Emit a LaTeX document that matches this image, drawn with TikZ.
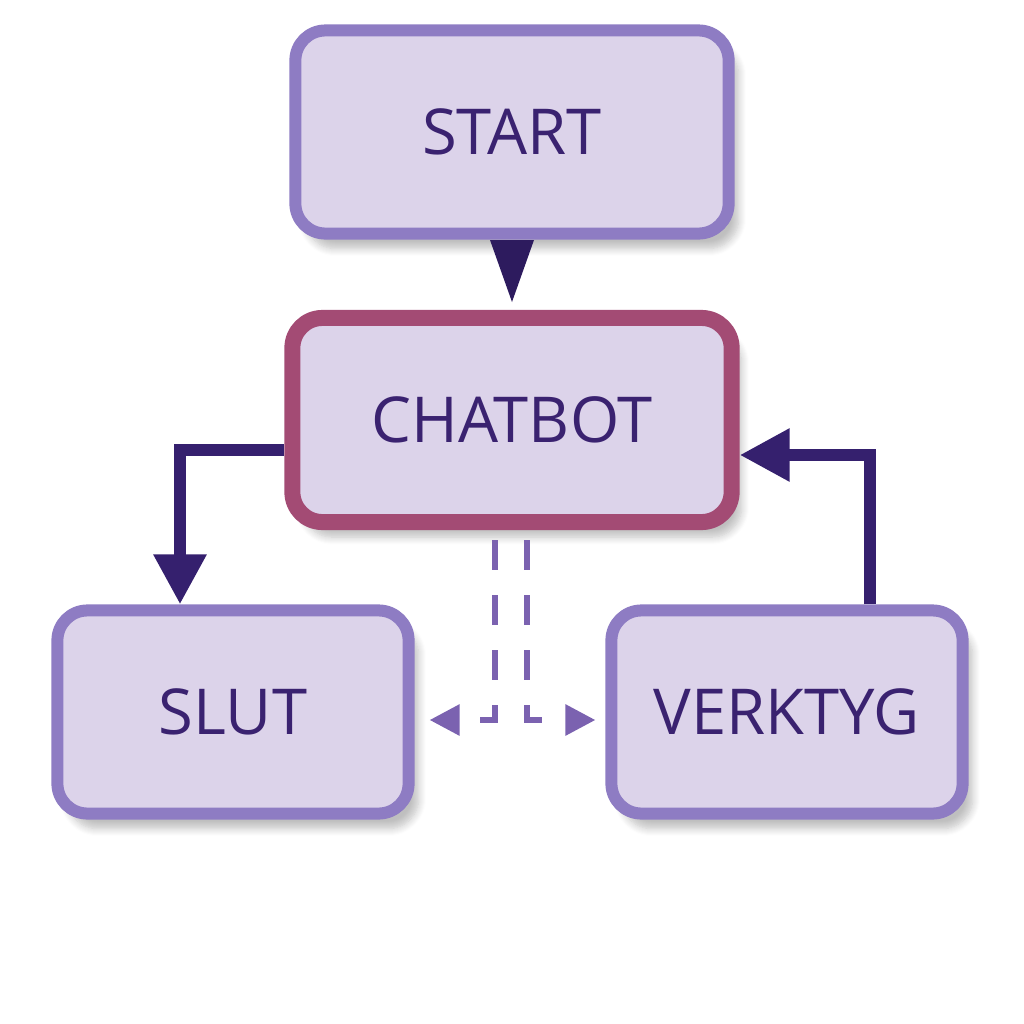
\documentclass[tikz,border=0pt]{standalone}
\usepackage{fontspec}
\setmainfont{Open Sans}
\usetikzlibrary{positioning, arrows.meta, shadows.blur}
\definecolor{boxfill}{HTML}{DCD3EA}
\definecolor{boxline}{HTML}{8E7CC3}
\definecolor{botline}{HTML}{A34B74}
\definecolor{txt}{HTML}{3A2270}
\definecolor{flow}{HTML}{35206E}
\definecolor{dash}{HTML}{7B62B0}
\begin{document}
\begin{tikzpicture}[x=0.01cm, y=-0.01cm, >=Triangle,
    box/.style={draw=boxline, line width=1.2mm, fill=boxfill, rounded corners=3mm,
      minimum width=4.33cm, minimum height=2.03cm, text=txt, font=\fontsize{18}{22}\selectfont,
      blur shadow={shadow blur steps=8, shadow xshift=1mm, shadow yshift=-1.5mm, shadow opacity=25}},
    flowarrow/.style={-{Triangle[length=5mm, width=5mm]}, line width=1.2mm, draw=flow},
    dasharrow/.style={-{Triangle[length=3mm, width=3mm]}, line width=0.6mm, draw=dash, dashed, dash pattern=on 3mm off 2.5mm}]
    \useasboundingbox (0,0) rectangle (1024,1024);
    % Boxes
    \node[box] (start) at (512,132) {START};
    \node[box, draw=botline, line width=1.6mm, minimum width=4.39cm, minimum height=2.04cm] (bot) at (512,420) {CHATBOT};
    \node[box, minimum width=3.51cm] (slut) at (233,712) {SLUT};
    \node[box, minimum width=3.51cm] (tool) at (787,712) {VERKTYG};
    % Start to chatbot
    \fill[flow!85!black] (490,240) -- (534,240) -- (512,302) -- cycle;
    % Chatbot to slut
    \draw[flowarrow] (bot.west |- 0,450) -| (slut.north -| 180,0);
    % Verktyg back to chatbot
    \draw[flowarrow] (tool.north -| 870,0) |- (bot.east |- 0,455);
    % Dashed links
    \coordinate (d1) at (495,540);
    \coordinate (d2) at (527,540);
    \draw[dasharrow, shorten >=1.5mm] (d1) |- (slut.east |- 0,720);
    \draw[dasharrow, shorten >=1mm] (d2) |- (tool.west |- 0,720);
\end{tikzpicture}
\end{document}
